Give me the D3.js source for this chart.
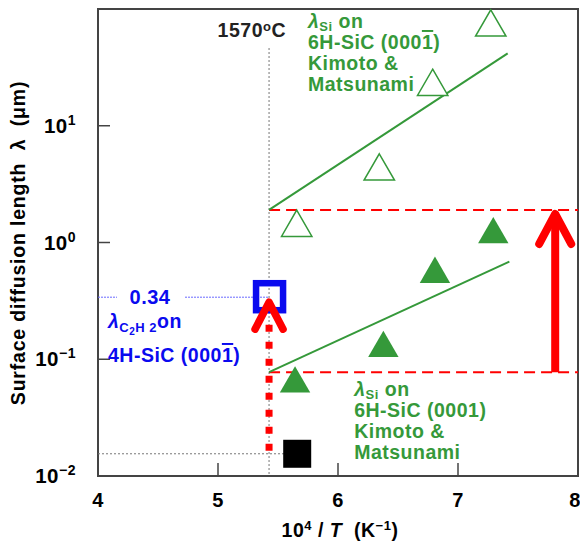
<!DOCTYPE html>
<html>
<head>
<meta charset="utf-8">
<script src="https://cdn.jsdelivr.net/npm/d3@7"></script>
<style>
  body { margin: 0; background: #fff; }
  svg text { font-family: "Liberation Sans", Arial, sans-serif; font-weight: bold; letter-spacing: 0.5px; }
</style>
</head>
<body>
<div id="chart"></div>
<script>
// values
const xTicks = [4, 5, 6, 7, 8];
const yTicks = [0.01, 0.1, 1, 10];
const yTickExp = ["\u22122", "\u22121", "0", "1"];

const T1570 = 1e4 / (1570 + 273.15);          // 1570 C in 10^4/T

// lambda_Si on 6H-SiC (000-1), open triangles
const openX = [5.656, 6.344, 6.789, 7.273];
const openY = [1.34, 4.07, 21.6, 69.7];
// lambda_Si on 6H-SiC (0001), filled triangles
const fillX = [5.642, 6.378, 6.808, 7.294];
const fillY = [0.0617, 0.124, 0.536, 1.17];

// fit lines
const openFitX = [T1570, 7.414];
const openFitY = [1.9, 41.7];
const fillFitX = [T1570, 7.428];
const fillFitY = [0.0775, 0.687];

// lambda C2H2 and black square
const c2h2X = [T1570];
const c2h2Y = [0.34];
const blackX = [5.66];
const blackY = [0.0155];

// red dashed band + arrow
const bandY = [0.0775, 1.9];
const arrowX = 7.81;

const width = 580, height = 546;
const green = "#35993a", blue = "#0a0aef", red = "#ff0000";
const fs = 19.5;

const svg = d3.select("#chart").append("svg")
    .attr("width", width)
    .attr("height", height);

const x = d3.scaleLinear().domain([4, 8]).range([98, 578]);
const y = d3.scaleLog().domain([0.01, 100]).range([476, 9]);

// frame
svg.append("rect")
    .attr("x", x(4)).attr("y", y(100))
    .attr("width", x(8) - x(4)).attr("height", y(0.01) - y(100))
    .attr("fill", "none").attr("stroke", "#444").attr("stroke-width", 2);

// ticks (inward)
svg.append("g").selectAll("line")
    .data(xTicks.slice(1, -1))
    .enter().append("line")
    .attr("x1", d => x(d)).attr("x2", d => x(d))
    .attr("y1", y(0.01)).attr("y2", y(0.01) - 13)
    .attr("stroke", "#444").attr("stroke-width", 1.5);

svg.append("g").selectAll("line")
    .data(yTicks.slice(1))
    .enter().append("line")
    .attr("x1", x(4)).attr("x2", x(4) + 12)
    .attr("y1", d => y(d)).attr("y2", d => y(d))
    .attr("stroke", "#444").attr("stroke-width", 1.5);

// tick labels
svg.append("g").selectAll("text")
    .data(xTicks)
    .enter().append("text")
    .attr("x", d => x(d) + (d == 8 ? -3 : 0))
    .attr("y", y(0.01) + 31)
    .attr("text-anchor", "middle")
    .attr("font-size", 20)
    .text(d => d);

const yl = svg.append("g").selectAll("text")
    .data(yTicks)
    .enter().append("text")
    .attr("x", 76)
    .attr("y", d => y(d) + 7)
    .attr("text-anchor", "end")
    .attr("font-size", 20.5);
yl.append("tspan").text("10");
yl.append("tspan")
    .attr("font-size", 14)
    .attr("dy", -8)
    .text((d, i) => yTickExp[i]);

// axis titles
const xt = svg.append("text")
    .attr("x", 340).attr("y", 537)
    .attr("text-anchor", "middle")
    .attr("font-size", fs);
xt.append("tspan").text("10");
xt.append("tspan").attr("font-size", 13).attr("dy", -7).text("4");
xt.append("tspan").attr("dy", 7).text("\u00a0/\u00a0");
xt.append("tspan").attr("font-style", "italic").text("T");
xt.append("tspan").text("\u00a0\u00a0(K");
xt.append("tspan").attr("font-size", 13).attr("dy", -7).text("\u22121");
xt.append("tspan").attr("dy", 7).text(")");

svg.append("text")
    .attr("transform", "translate(25,243) rotate(-90)")
    .attr("text-anchor", "middle")
    .attr("font-size", fs)
    .style("letter-spacing", "0.8px")
    .text("Surface diffusion length \u00a0\u03bb\u00a0 (\u03bcm)");

// 1570 C vertical dotted line
svg.append("line")
    .attr("x1", x(T1570)).attr("x2", x(T1570))
    .attr("y1", 48).attr("y2", y(0.01))
    .attr("stroke", "#777").attr("stroke-width", 1)
    .attr("stroke-dasharray", "2,2");

const tc = svg.append("text")
    .attr("x", x(T1570) + 17).attr("y", 37)
    .attr("text-anchor", "end")
    .attr("font-size", fs)
    .attr("fill", "#222");
tc.append("tspan").text("1570");
tc.append("tspan").attr("font-size", 13).attr("dy", -6).text("o");
tc.append("tspan").attr("dy", 6).text("C");

// black square level dotted line
svg.append("line")
    .attr("x1", x(4)).attr("x2", x(blackX[0]))
    .attr("y1", y(blackY[0])).attr("y2", y(blackY[0]))
    .attr("stroke", "#777").attr("stroke-width", 1)
    .attr("stroke-dasharray", "2,2");

// blue dotted line to 0.34
svg.append("line")
    .attr("x1", x(4)).attr("x2", x(c2h2X[0]))
    .attr("y1", y(c2h2Y[0])).attr("y2", y(c2h2Y[0]))
    .attr("stroke", "#6a6aff").attr("stroke-width", 1)
    .attr("stroke-dasharray", "2,1");

svg.append("rect")
    .attr("x", 117).attr("y", y(c2h2Y[0]) - 10)
    .attr("width", 68).attr("height", 20)
    .attr("fill", "#fff");
svg.append("text")
    .attr("x", 150).attr("y", y(c2h2Y[0]) + 7)
    .attr("text-anchor", "middle")
    .attr("font-size", 20)
    .attr("fill", blue)
    .text(c2h2Y[0].toFixed(2));

// red dashed band
svg.append("g").selectAll("line")
    .data(bandY)
    .enter().append("line")
    .attr("x1", x(T1570)).attr("x2", x(8))
    .attr("y1", d => y(d)).attr("y2", d => y(d))
    .attr("stroke", red).attr("stroke-width", 2)
    .attr("stroke-dasharray", "11,6");

// fit lines
const line = d3.line().x(d => x(d[0])).y(d => y(d[1]));
svg.append("path")
    .attr("d", line(d3.zip(openFitX, openFitY)))
    .attr("fill", "none").attr("stroke", green).attr("stroke-width", 2);
svg.append("path")
    .attr("d", line(d3.zip(fillFitX, fillFitY)))
    .attr("fill", "none").attr("stroke", green).attr("stroke-width", 2);

// triangles
const tri = d3.symbol().type(d3.symbolTriangle).size(400);
svg.append("g").selectAll("path")
    .data(d3.zip(openX, openY))
    .enter().append("path")
    .attr("transform", d => `translate(${x(d[0])},${y(d[1])})`)
    .attr("d", tri)
    .attr("fill", "#fff").attr("stroke", green).attr("stroke-width", 1.5);
svg.append("g").selectAll("path")
    .data(d3.zip(fillX, fillY))
    .enter().append("path")
    .attr("transform", d => `translate(${x(d[0])},${y(d[1])})`)
    .attr("d", tri)
    .attr("fill", green);

// black square
svg.append("g").selectAll("rect")
    .data(d3.zip(blackX, blackY))
    .enter().append("rect")
    .attr("x", d => x(d[0]) - 14).attr("y", d => y(d[1]) - 14)
    .attr("width", 28).attr("height", 28)
    .attr("fill", "#000");

// red dotted arrow up to the C2H2 point
svg.append("line")
    .attr("x1", x(T1570)).attr("x2", x(T1570))
    .attr("y1", y(blackY[0]) - 3).attr("y2", y(c2h2Y[0]) + 25)
    .attr("stroke", red).attr("stroke-width", 7)
    .attr("stroke-dasharray", "7,10");

// blue open square
svg.append("g").selectAll("rect")
    .data(d3.zip(c2h2X, c2h2Y))
    .enter().append("rect")
    .attr("x", d => x(d[0]) - 13).attr("y", d => y(d[1]) - 14)
    .attr("width", 27).attr("height", 27)
    .attr("fill", "none").attr("stroke", blue).attr("stroke-width", 6.5);

// arrow heads
function chevron(cx, cy, w, h, sw) {
    svg.append("path")
        .attr("d", `M${cx - w},${cy + h}L${cx},${cy}L${cx + w},${cy + h}`)
        .attr("fill", "none").attr("stroke", red)
        .attr("stroke-width", sw)
        .attr("stroke-linecap", "round").attr("stroke-linejoin", "round");
}
chevron(x(T1570), y(c2h2Y[0]) + 5, 14, 27, 7.5);

svg.append("line")
    .attr("x1", x(arrowX)).attr("x2", x(arrowX))
    .attr("y1", y(bandY[0])).attr("y2", y(bandY[1]) + 4)
    .attr("stroke", red).attr("stroke-width", 8);
chevron(x(arrowX), y(bandY[1]) + 4, 16, 30, 8);

// labels
function siLabel(x0, y0, lines, bar) {
    const g = svg.append("g").attr("fill", green);
    const t0 = g.append("text").attr("x", x0).attr("y", y0).attr("font-size", fs);
    t0.append("tspan").attr("font-style", "italic").text("\u03bb");
    t0.append("tspan").attr("font-size", 13).attr("dy", 3).text("Si");
    t0.append("tspan").attr("dy", -3).text(" on");
    const t1 = g.append("text").attr("x", x0).attr("y", y0 + 21).attr("font-size", fs);
    t1.append("tspan").text("6H-SiC (000");
    t1.append("tspan").style("text-decoration", bar ? "overline" : "none").text("1");
    t1.append("tspan").text(")");
    lines.forEach((s, i) => {
        g.append("text").attr("x", x0).attr("y", y0 + 42 + 21 * i)
            .attr("font-size", fs).text(s);
    });
}
siLabel(x(5.75), 28, ["Kimoto &", "Matsunami"], true);
siLabel(x(6.135), 396, ["Kimoto &", "Matsunami"], false);

const b0 = svg.append("text").attr("x", 108).attr("y", 328)
    .attr("font-size", fs).attr("fill", blue);
b0.append("tspan").attr("font-style", "italic").text("\u03bb");
b0.append("tspan").attr("font-size", 13).attr("dy", 4).text("C");
b0.append("tspan").attr("font-size", 10).attr("dy", 3).text("2");
b0.append("tspan").attr("font-size", 13).attr("dy", -3).text("H ");
b0.append("tspan").attr("font-size", 13).text("2");
b0.append("tspan").attr("dy", -4).text("on");
const b1 = svg.append("text").attr("x", 108).attr("y", 362)
    .attr("font-size", fs).attr("fill", blue);
b1.append("tspan").text("4H-SiC (000");
b1.append("tspan").style("text-decoration", "overline").text("1");
b1.append("tspan").text(")");
</script>
</body>
</html>
